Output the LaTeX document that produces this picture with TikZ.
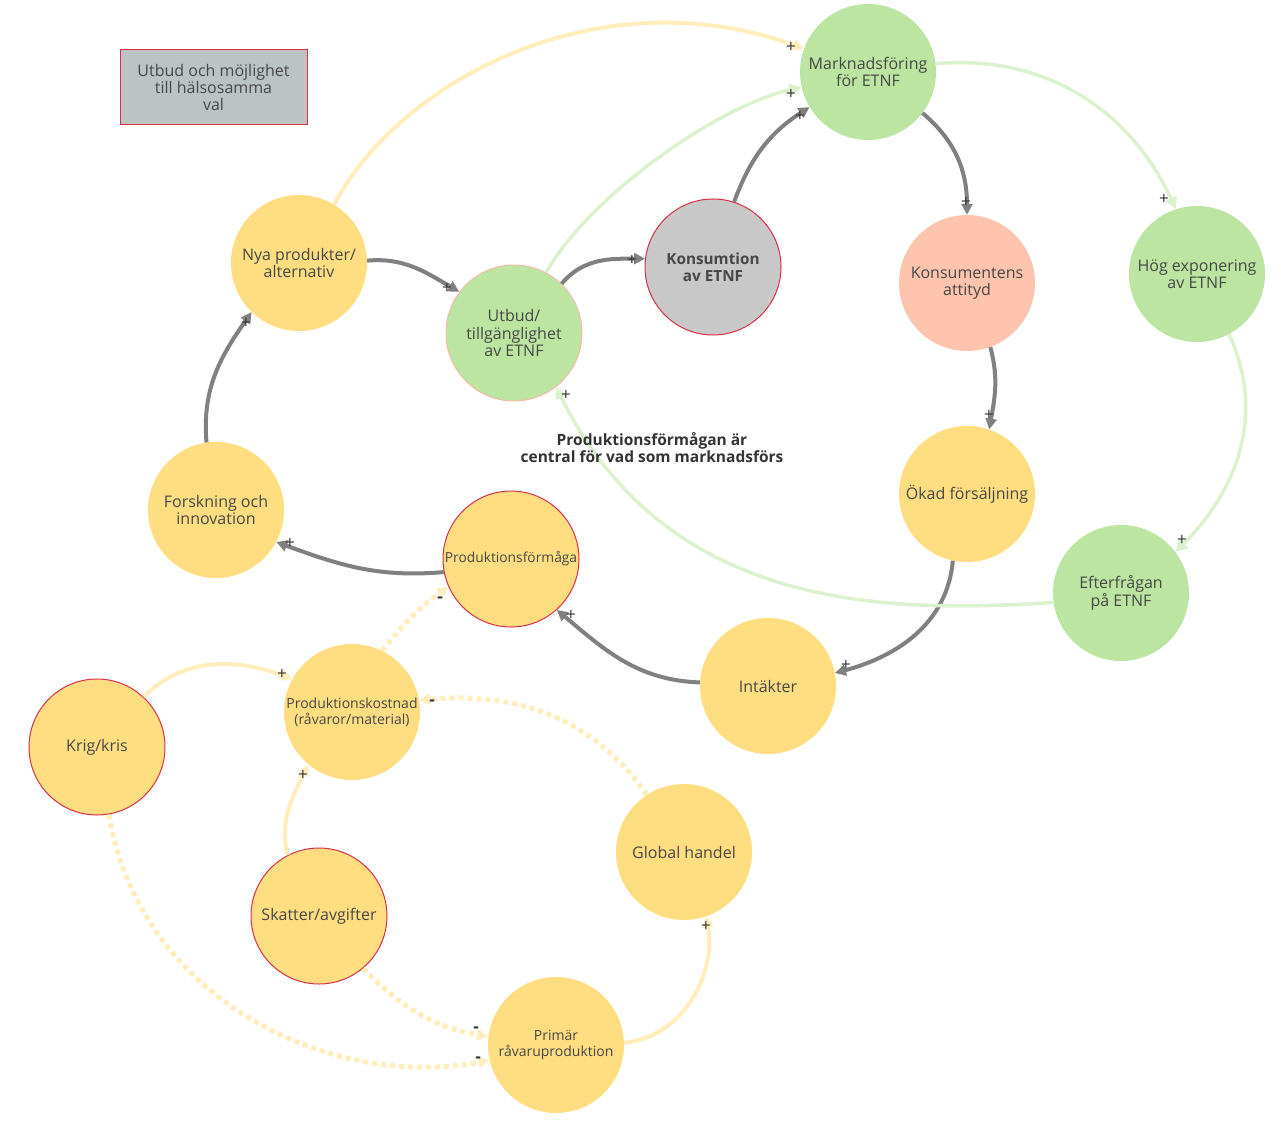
\documentclass[tikz,border=0pt]{standalone}
\usepackage{fontspec}
\setmainfont{Open Sans}
\usetikzlibrary{arrows.meta}
\definecolor{grnc}{HTML}{BBE5A0}
\definecolor{yelc}{HTML}{FFDD80}
\definecolor{salc}{HTML}{FFC4AE}
\definecolor{gnode}{HTML}{C8C8C8}
\definecolor{boxc}{HTML}{BCC3C3}
\definecolor{redb}{HTML}{D93048}
\definecolor{utbb}{HTML}{F5BBA8}
\definecolor{garrc}{HTML}{808080}
\definecolor{larrc}{HTML}{DCF2CF}
\definecolor{yarrc}{HTML}{FFEDBC}
\definecolor{txt}{HTML}{474747}
\definecolor{ptxt}{HTML}{333333}
\begin{document}
\begin{tikzpicture}[x=1pt,y=1pt,
  font=\fontsize{16}{17.5}\selectfont,
  circ/.style={circle, minimum size=136pt, inner sep=0pt, align=center, text=txt},
  yel/.style={circ, fill=yelc},
  grn/.style={circ, fill=grnc},
  redbord/.style={draw=redb, line width=1pt},
  smalltext/.style={font=\fontsize{14}{16}\selectfont},
  garr/.style={draw=garrc, line width=4pt, -{Triangle[length=11pt,width=11pt]}},
  larr/.style={draw=larrc, line width=3.5pt, -{Triangle[length=12pt,width=12pt]}},
  yarr/.style={draw=yarrc, line width=4pt, -{Triangle[length=11pt,width=11pt]}},
  darr/.style={draw=yarrc, line width=5pt, dash pattern=on 5pt off 4pt, -{Triangle[length=11pt,width=11pt]}},
  sign/.style={font=\fontsize{17}{17}\selectfont, text=ptxt, inner sep=0pt},
  msign/.style={font=\fontsize{17}{17}\selectfont\bfseries, text=ptxt, inner sep=0pt}
]
\useasboundingbox (0,0) rectangle (1281,-1123);
\fill[white] (0,0) rectangle (1281,-1123);

% box
\node[draw=redb, fill=boxc, line width=1pt, minimum width=187pt, minimum height=75pt, inner sep=0pt, align=center, text=txt, font=\fontsize{16}{17}\selectfont] (box) at (213.5,-87.5) {Utbud och möjlighet\\till hälsosamma\\val};

% nodes
\node[grn] (mark) at (868,-72) {Marknadsföring\\för ETNF};
\node[grn, draw=utbb, line width=1pt] (utbud) at (514,-333) {Utbud/\\tillgänglighet\\av ETNF};
\node[circ, fill=gnode, redbord, font=\fontsize{15.3}{17}\selectfont\bfseries] (kons) at (713,-267) {Konsumtion\\av ETNF};
\node[yel] (nya) at (299,-263) {Nya produkter/\\alternativ};
\node[yel] (forsk) at (216,-510) {Forskning och\\innovation};
\node[yel, redbord, font=\fontsize{13.8}{16}\selectfont] (pform) at (511,-559) {Produktionsförmåga};
\node[circ, fill=salc] (attityd) at (967,-283) {Konsumentens\\attityd};
\node[grn] (hog) at (1197,-274) {Hög exponering\\av ETNF};
\node[yel] (okad) at (967,-494) {Ökad försäljning};
\node[grn] (efter) at (1121,-593) {Efterfrågan\\på ETNF};
\node[yel] (intakt) at (768,-686) {Intäkter};
\node[yel, smalltext] (pkost) at (352,-712) {Produktionskostnad\\(råvaror/material)};
\node[yel, redbord] (krig) at (97,-747) {Krig/kris};
\node[yel, redbord] (skatt) at (319,-916) {Skatter/avgifter};
\node[yel] (global) at (684,-852) {Global handel};
\node[yel, smalltext] (primar) at (556,-1045) {Primär\\råvaruproduktion};

% gray arrows
\draw[garr] (utbud.46) to[out=50,in=180] (kons.173);
\draw[garr] (kons.72) to[out=70,in=213] (mark.211);
\draw[garr] (mark.-37) to[out=-40,in=90] (attityd.90);
\draw[garr] (attityd.-70) to[out=-75,in=80] (okad.71);
\draw[garr] (okad.-102) to[out=-95,in=15] (intakt.11);
\draw[garr] (intakt.177) to[out=178,in=-40] (pform.-48);
\draw[garr] (pform.-169) to[out=185,in=-20] (forsk.-28);
\draw[garr] (forsk.98) to[out=95,in=-125] (nya.-134);
\draw[garr] (nya.2) to[out=5,in=150] (utbud.143);

% light green arrows
\draw[larr] (utbud.62) .. controls (590,-195) and (720,-105) .. (mark.193);
\draw[larr] (mark.7) to[out=5,in=115] (hog.108);
\draw[larr] (hog.-62) to[out=-65,in=45] (efter.37);
\draw[larr] (efter.-172) .. controls (900,-612) and (670,-617) .. (utbud.-52);

% yellow arrows
\draw[yarr] (nya.59) .. controls (400,-80) and (600,25) .. (mark.160);
\draw[yarr] (krig.47) to[out=45,in=160] (pkost.151);
\draw[yarr] (skatt.117) to[out=105,in=-115] (pkost.-130);
\draw[yarr] (primar.2) to[out=5,in=-80] (global.-71);

% dotted arrows
\draw[darr] (pkost.64) to[out=50,in=215] (pform.204);
\draw[darr] (global.123) to[out=125,in=5] (pkost.10);
\draw[darr] (skatt.-50) to[out=-45,in=170] (primar.173);
\draw[darr] (krig.-80) .. controls (140,-1000) and (330,-1090) .. (primar.193);

\node[font=\fontsize{15.5}{17}\selectfont\bfseries, align=center, text=ptxt] (central) at (652,-448) {Produktionsförmågan är\\central för vad som marknadsförs};

% signs
\node[sign] (p1) at (632,-260) {+};
\node[sign] (p2) at (800,-116) {+};
\node[sign] (p3) at (966,-202) {+};
\node[sign] (p4) at (989,-415) {+};
\node[sign] (p5) at (846,-665) {+};
\node[sign] (p6) at (571,-615) {+};
\node[sign] (p7) at (290,-543) {+};
\node[sign] (p8) at (246,-323) {+};
\node[sign] (p9) at (447,-288) {+};
\node[sign] (p10) at (791,-94) {+};
\node[sign] (p11) at (1164,-199) {+};
\node[sign] (p12) at (1182,-540) {+};
\node[sign] (p13) at (566,-395) {+};
\node[sign] (p14) at (791,-47) {+};
\node[sign] (p15) at (282,-674) {+};
\node[sign] (p16) at (303,-775) {+};
\node[sign] (p17) at (706,-926) {+};
\node[msign] (m18) at (440,-600) {-};
\node[msign] (m19) at (432,-703) {-};
\node[msign] (m20) at (476,-1030) {-};
\node[msign] (m21) at (478,-1060) {-};
\end{tikzpicture}
\end{document}
